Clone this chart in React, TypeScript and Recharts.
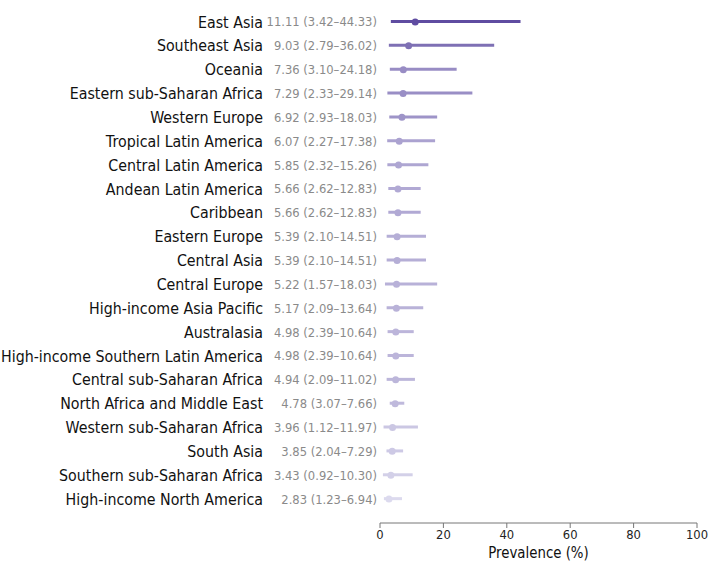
import React from 'react';
import { ComposedChart, Bar, Line, XAxis, YAxis, Cell } from 'recharts';

const regions = [
  'East Asia', 'Southeast Asia', 'Oceania', 'Eastern sub-Saharan Africa', 'Western Europe',
  'Tropical Latin America', 'Central Latin America', 'Andean Latin America', 'Caribbean',
  'Eastern Europe', 'Central Asia', 'Central Europe', 'High-income Asia Pacific', 'Australasia',
  'High-income Southern Latin America', 'Central sub-Saharan Africa', 'North Africa and Middle East',
  'Western sub-Saharan Africa', 'South Asia', 'Southern sub-Saharan Africa', 'High-income North America',
];
const prevalence = [11.11, 9.03, 7.36, 7.29, 6.92, 6.07, 5.85, 5.66, 5.66, 5.39, 5.39, 5.22, 5.17, 4.98, 4.98, 4.94, 4.78, 3.96, 3.85, 3.43, 2.83];
const lower = [3.42, 2.79, 3.10, 2.33, 2.93, 2.27, 2.32, 2.62, 2.62, 2.10, 2.10, 1.57, 2.09, 2.39, 2.39, 2.09, 3.07, 1.12, 2.04, 0.92, 1.23];
const upper = [44.33, 36.02, 24.18, 29.14, 18.03, 17.38, 15.26, 12.83, 12.83, 14.51, 14.51, 18.03, 13.64, 10.64, 10.64, 11.02, 7.66, 11.97, 7.29, 10.30, 6.94];
const xTicks = [0, 20, 40, 60, 80, 100];
const xLabel = 'Prevalence (%)';

const data = regions.map((name, i) => ({
  name,
  value: prevalence[i],
  range: [lower[i], upper[i]],
  text: `${prevalence[i].toFixed(2)} (${lower[i].toFixed(2)}–${upper[i].toFixed(2)})`,
}));

const FONT = '"DejaVu Sans", sans-serif';
const SQUEEZE = 0.89;
const LIGHT = [220, 218, 238];
const DARK = [95, 76, 161];
const vMin = Math.min(...prevalence);
const vMax = Math.max(...prevalence);
const colorFor = (v: number) => {
  const t = (v - vMin) / (vMax - vMin);
  const c = LIGHT.map((l, k) => Math.round(l + (DARK[k] - l) * t));
  return `rgb(${c[0]},${c[1]},${c[2]})`;
};

const YTick = (props: any) => {
  const { y, payload, index } = props;
  const row = data[index] || data.find((d) => d.name === payload.value);
  return (
    <g>
      <text transform={`translate(263,${y}) scale(${SQUEEZE},1)`} x={0} y={0} dy="0.35em" textAnchor="end"
        fontSize={16} fill="#111" style={{ fontFamily: FONT }}>
        {payload.value}
      </text>
      <text transform={`translate(377,${y}) scale(${SQUEEZE},1)`} x={0} y={0} dy="0.35em" textAnchor="end"
        fontSize={13} fill="#8a8a8a" style={{ fontFamily: FONT }}>
        {row ? row.text : ''}
      </text>
    </g>
  );
};

const XTick = (props: any) => {
  const { x, y, payload } = props;
  return (
    <text transform={`translate(${x},${y}) scale(${SQUEEZE},1)`} x={0} y={0} dy="0.71em" textAnchor="middle"
      fontSize={13} fill="#222" style={{ fontFamily: FONT }}>
      {payload.value}
    </text>
  );
};

const XLabel = (props: any) => {
  const vb = props.viewBox || {};
  const cx = (vb.x || 0) + (vb.width || 0) / 2;
  const by = (vb.y || 0) + (vb.height || 0) - 4;
  return (
    <text transform={`translate(${cx},${by}) scale(${SQUEEZE},1)`} x={0} y={0} textAnchor="middle"
      fontSize={15} fill="#111" style={{ fontFamily: FONT }}>
      {xLabel}
    </text>
  );
};

const Dot = (props: any) => {
  const { cx, cy, index } = props;
  if (cx == null || cy == null) return null;
  return <circle key={`d${index}`} cx={cx} cy={cy} r={3.5} fill={colorFor(prevalence[index])} />;
};

export default function App() {
  return (
    <div style={{ position: 'absolute', left: 0, top: 0, width: 709, height: 562, background: '#fff' }}>
      <ComposedChart
        width={709}
        height={562}
        data={data}
        layout="vertical"
        margin={{ top: 10, right: 12, bottom: 0, left: 0 }}
      >
        <XAxis
          type="number"
          domain={[0, 100]}
          ticks={xTicks}
          interval={0}
          height={39}
          tickSize={5}
          tickMargin={2}
          stroke="#777"
          tick={<XTick />}
          label={<XLabel />}
        />
        <YAxis
          type="category"
          dataKey="name"
          width={380}
          axisLine={false}
          tickLine={false}
          tickSize={0}
          tickMargin={0}
          interval={0}
          padding={{ top: 0, bottom: 12 }}
          tick={<YTick />}
        />
        <Bar dataKey="range" barSize={3} isAnimationActive={false}>
          {data.map((d, i) => (
            <Cell key={i} fill={colorFor(d.value)} />
          ))}
        </Bar>
        <Line dataKey="value" stroke="none" dot={<Dot />} activeDot={false} isAnimationActive={false} />
      </ComposedChart>
    </div>
  );
}
